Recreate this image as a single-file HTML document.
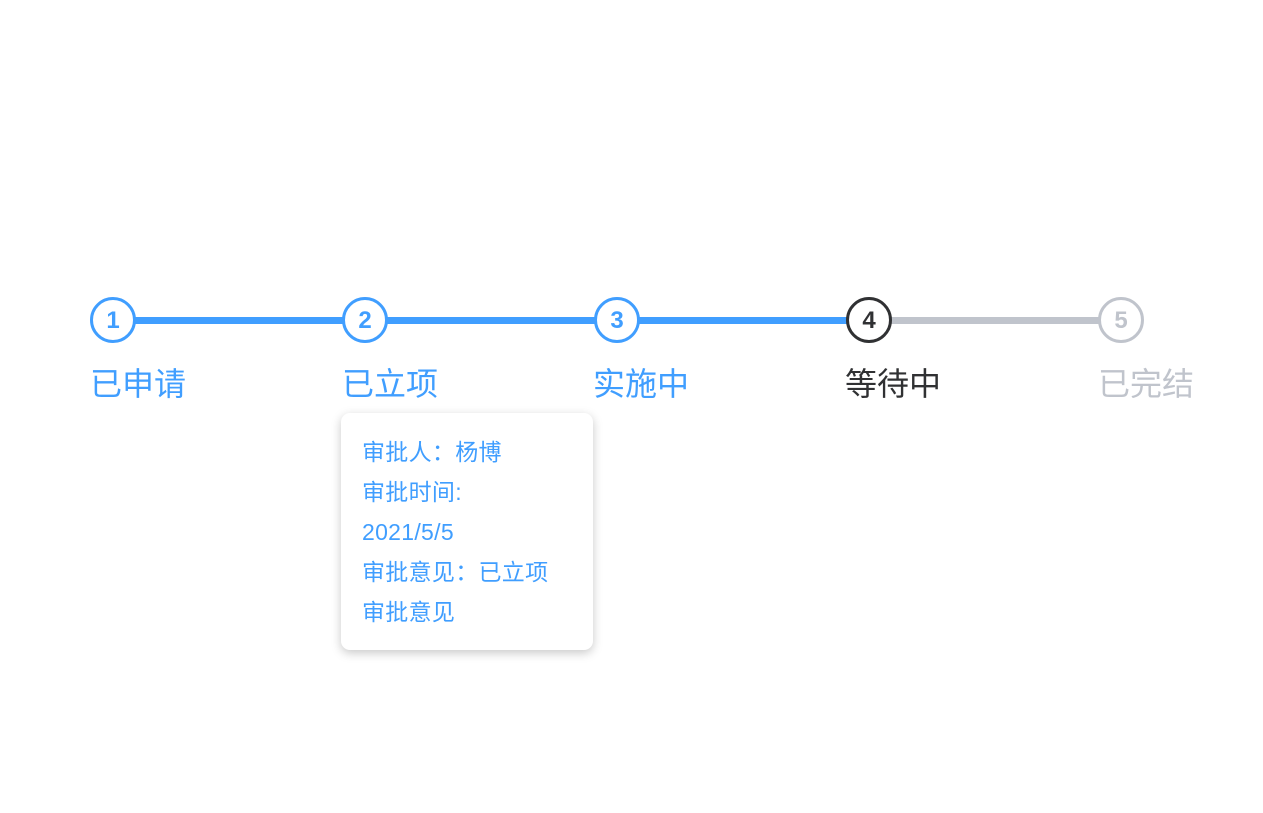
<!DOCTYPE html>
<html><head><meta charset="utf-8"><style>
body{margin:0;width:1263px;height:813px;background:#fff;position:relative;overflow:hidden;font-family:"Liberation Sans","Noto Sans CJK SC",sans-serif}
.line{position:absolute;top:317px;height:7px}
.c{position:absolute;top:297px;width:40px;height:40px;border:3px solid;border-radius:50%;box-sizing:content-box;text-align:center;line-height:42px;font-size:24px;font-weight:bold;background:#fff}
.l{position:absolute;top:363px;font-size:32px;line-height:42px}
.card{position:absolute;left:341px;top:413px;width:252px;height:237px;border-radius:9px;box-shadow:0 3px 10px rgba(0,0,0,.22);background:#fff}
.card div{position:absolute;left:21px;font-size:23px;color:#409eff;line-height:30px;letter-spacing:0.3px}
</style></head><body>
<div class="line" style="left:113px;width:756px;background:#409eff"></div>
<div class="line" style="left:869px;width:252px;background:#c0c4cc"></div>
<div class="c" style="left:90px;border-color:#409eff;color:#409eff">1</div>
<div class="c" style="left:342px;border-color:#409eff;color:#409eff">2</div>
<div class="c" style="left:594px;border-color:#409eff;color:#409eff">3</div>
<div class="c" style="left:846px;border-color:#303133;color:#303133">4</div>
<div class="c" style="left:1098px;border-color:#c0c4cc;color:#c0c4cc">5</div>
<div class="l" style="left:90px;color:#409eff">已申请</div>
<div class="l" style="left:342px;color:#409eff">已立项</div>
<div class="l" style="left:593px;color:#409eff">实施中</div>
<div class="l" style="left:845px;color:#303133">等待中</div>
<div class="l" style="left:1098px;color:#c0c4cc">已完结</div>
<div class="card">
<div style="top:24px">审批人：杨博</div>
<div style="top:64px">审批时间:</div>
<div style="top:104px">2021/5/5</div>
<div style="top:144px">审批意见：已立项</div>
<div style="top:184px">审批意见</div>
</div>
</body></html>
